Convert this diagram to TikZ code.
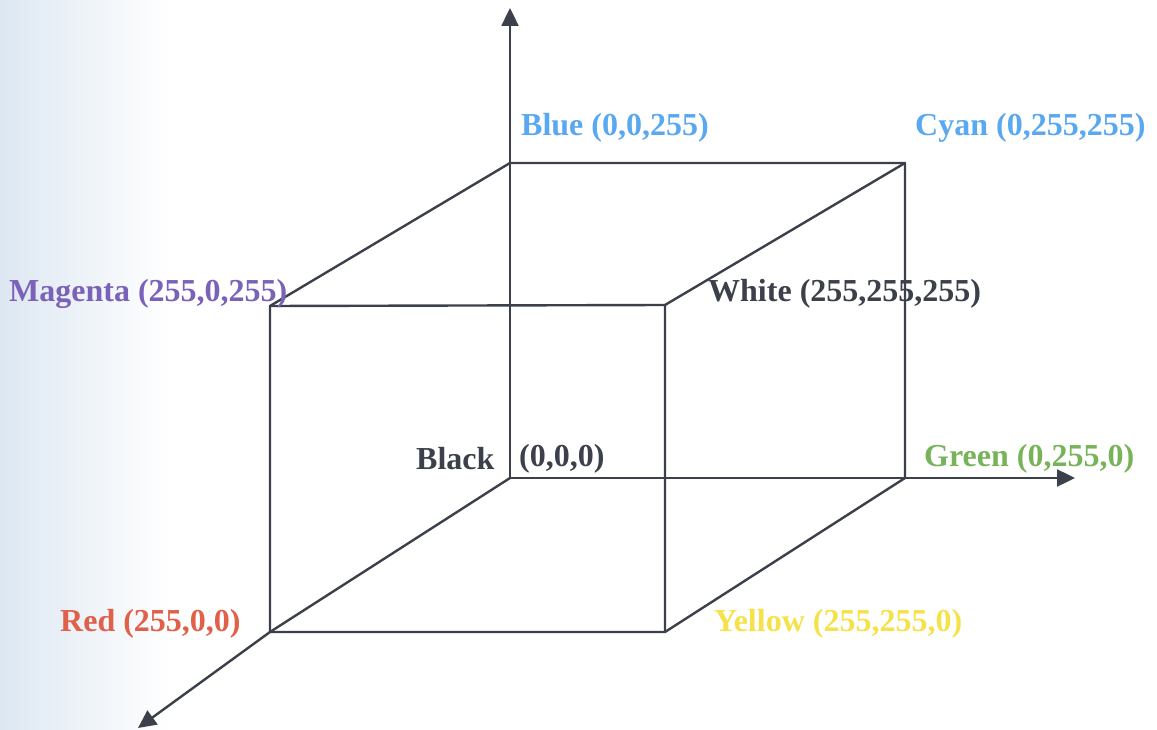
\documentclass[tikz,border=0pt]{standalone}
\usepackage{fontspec}
\setmainfont{Liberation Serif}
\usetikzlibrary{arrows.meta}
\definecolor{edgecol}{HTML}{3C404A}
\definecolor{bluecol}{HTML}{5AA8EF}
\definecolor{magcol}{HTML}{7A62B8}
\definecolor{greencol}{HTML}{78B35A}
\definecolor{redcol}{HTML}{E0604A}
\definecolor{yellowcol}{HTML}{F5E24A}
\definecolor{scanblue}{HTML}{DDE7F2}
\tikzset{
  edge/.style={draw=edgecol, line width=2.4pt, line cap=round, line join=round},
  axis/.style={edge, -{Triangle[length=18pt,width=17pt]}},
  lbl/.style={anchor=west, inner sep=0pt, font=\fontsize{32}{38}\selectfont\bfseries},
}
\begin{document}
\begin{tikzpicture}[x=1pt,y=-1pt]
\useasboundingbox (0,0) rectangle (1157,730);
\shade[left color=scanblue, right color=white] (0,0) rectangle (170,730);
% vertices
\coordinate (O) at (510,478);
\coordinate (B) at (510,163);
\coordinate (C) at (905,163);
\coordinate (G) at (905,478);
\coordinate (M) at (270,306);
\coordinate (W) at (665,305);
\coordinate (R) at (270,632);
\coordinate (Y) at (665,632);
\coordinate (tipUp) at (510,8);
\coordinate (tipRight) at (1075,478);
\coordinate (tipDown) at (138,728);
% cube edges
\draw[edge] (B) -- (C) -- (G) -- (Y) -- (R) -- (M) -- (B);
\draw[edge] (M) -- (W) -- (Y);
\draw[edge] (W) -- (C);
\draw[edge] (O) -- (R);
% axes
\draw[axis] (O) -- (tipUp);
\draw[axis] (O) -- (tipRight);
\draw[axis] (R) -- (tipDown);
% labels
\node[lbl, text=bluecol] (lB) at (521,128) {Blue (0,0,255)};
\node[lbl, text=bluecol] (lC) at (915,128) {Cyan (0,255,255)};
\node[lbl, text=magcol] (lM) at (9,294) {Magenta (255,0,255)};
\node[lbl, text=edgecol] (lW) at (708,294) {White (255,255,255)};
\node[lbl, text=edgecol] (lK) at (416,459) {Black};
\node[lbl, text=edgecol] (lO) at (519,459) {(0,0,0)};
\node[lbl, text=greencol] (lG) at (924,459) {Green (0,255,0)};
\node[lbl, text=redcol] (lR) at (60,624) {Red (255,0,0)};
\node[lbl, text=yellowcol] (lY) at (714,624) {Yellow (255,255,0)};
\end{tikzpicture}
\end{document}
